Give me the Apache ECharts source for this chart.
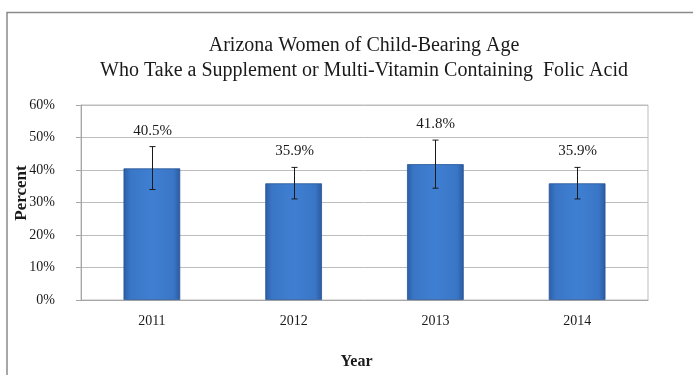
<!DOCTYPE html>
<html>
<head>
<meta charset="utf-8">
<script src="https://cdn.jsdelivr.net/npm/echarts@6/dist/echarts.min.js"></script>
<style>
html,body{margin:0;padding:0;background:#fff;}
#c{width:693px;height:375px;}
</style>
</head>
<body>
<div id="c"></div>
<script>
var years = ['2011', '2012', '2013', '2014'];
var percent = [40.5, 35.9, 41.8, 35.9];
var ciLower = [34.0, 31.1, 34.4, 31.1];
var ciUpper = [47.2, 40.8, 49.2, 40.8];
var yTicks = [0, 10, 20, 30, 40, 50, 60];

var SERIF = '"Liberation Serif", "DejaVu Serif", serif';
var chart = echarts.init(document.getElementById('c'));

var errData = years.map(function (y, i) { return [i, ciLower[i], ciUpper[i], percent[i]]; });

chart.setOption({
  animation: false,
  backgroundColor: '#fff',
  title: {
    text: 'Arizona Women of Child-Bearing Age\nWho Take a Supplement or Multi-Vitamin Containing  Folic Acid',
    left: 359, top: 28, textAlign: 'center',
    textStyle: { fontFamily: SERIF, fontSize: 20, fontWeight: 'normal', color: '#1a1a1a', lineHeight: 25 }
  },
  graphic: [{
    type: 'rect', silent: true,
    shape: { x: 7, y: 12.5, width: 700, height: 400 },
    style: { fill: null, stroke: '#8a8a8a', lineWidth: 1.5 }
  }, {
    type: 'text', silent: true,
    x: 22, y: 193, rotation: Math.PI / 2,
    style: { text: 'Percent', font: 'bold 17px ' + SERIF, fill: '#1a1a1a', align: 'center', verticalAlign: 'middle' }
  }],
  grid: { left: 81, right: 45, top: 105, bottom: 75, outerBoundsMode: 'none', containLabel: false,
          show: true, borderColor: '#bdbdbd', borderWidth: 1 },
  xAxis: {
    type: 'category', data: years,
    name: 'Year', nameLocation: 'middle', nameGap: 54,
    nameTextStyle: { fontFamily: SERIF, fontSize: 16, fontWeight: 'bold', color: '#1a1a1a', padding: [0, 16, 0, 0] },
    axisLine: { lineStyle: { color: '#a6a6a6' } },
    axisTick: { alignWithLabel: true, length: 4, lineStyle: { color: '#a6a6a6' } },
    axisLabel: { fontFamily: SERIF, fontSize: 14, color: '#1a1a1a', margin: 14 }
  },
  yAxis: {
    type: 'value', min: 0, max: 60, interval: 10,
    axisLine: { show: true, lineStyle: { color: '#a6a6a6' } },
    axisTick: { show: true, length: 5, inside: false, lineStyle: { color: '#a6a6a6' } },
    splitLine: { lineStyle: { color: '#bdbdbd' } },
    axisLabel: {
      fontFamily: SERIF, fontSize: 14, color: '#1a1a1a', margin: 26,
      formatter: function (v) { return yTicks.indexOf(v) >= 0 ? v + '%' : ''; }
    }
  },
  series: [{
    type: 'bar', data: percent, barWidth: '40%',
    itemStyle: {
      color: new echarts.graphic.LinearGradient(0, 0, 1, 0, [
        { offset: 0, color: '#2b5ea6' },
        { offset: 0.12, color: '#3a76c6' },
        { offset: 0.5, color: '#3f7fd2' },
        { offset: 0.88, color: '#3a76c6' },
        { offset: 1, color: '#2a5aa0' }
      ]),
      borderColor: '#2a5596', borderWidth: 0.8
    }
  }, {
    type: 'custom', data: errData, z: 5,
    renderItem: function (params, api) {
      var i = api.value(0);
      var lo = api.coord([i, api.value(1)]);
      var hi = api.coord([i, api.value(2)]);
      var x = Math.round(lo[0]) + 0.5;
      var c = 3;
      var st = { stroke: '#1a1a1a', lineWidth: 1 };
      return {
        type: 'group',
        children: [
          { type: 'line', shape: { x1: x, y1: hi[1], x2: x, y2: lo[1] }, style: st },
          { type: 'line', shape: { x1: x - c, y1: hi[1], x2: x + c, y2: hi[1] }, style: st },
          { type: 'line', shape: { x1: x - c, y1: lo[1], x2: x + c, y2: lo[1] }, style: st },
          { type: 'text', x: x, y: hi[1] - 16,
            style: { text: api.value(3).toFixed(1) + '%', align: 'center', verticalAlign: 'middle',
                     font: '15px ' + SERIF, fill: '#1a1a1a' } }
        ]
      };
    }
  }]
});
</script>
</body>
</html>
